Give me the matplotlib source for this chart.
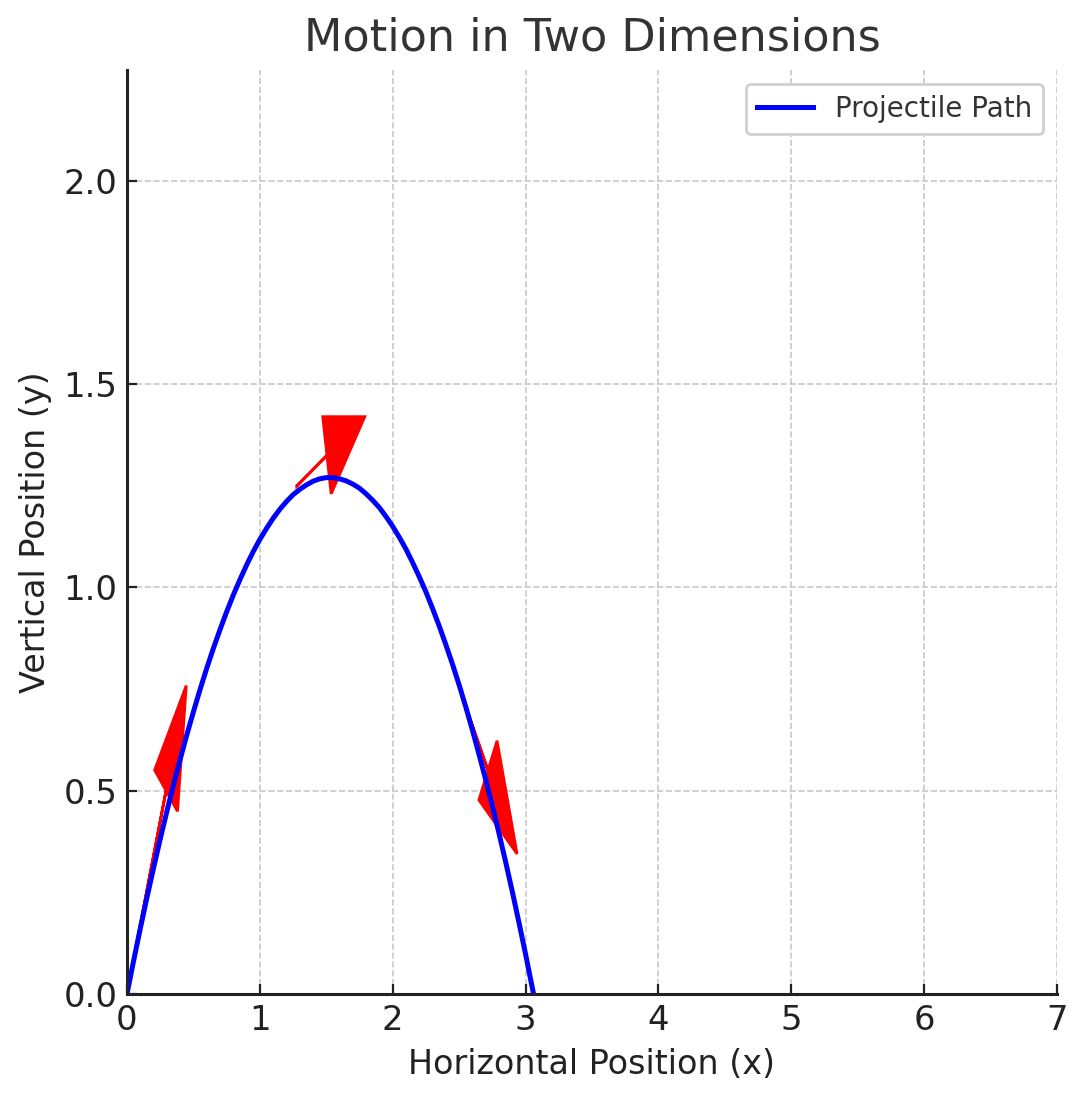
import matplotlib
matplotlib.use("Agg")
import matplotlib.pyplot as plt

# projectile path
path_x = [0.0, 0.05, 0.1, 0.15, 0.2, 0.25, 0.3, 0.35, 0.4, 0.45, 0.5,
          0.55, 0.6, 0.65, 0.7, 0.75, 0.8, 0.85, 0.9, 0.95, 1.0,
          1.05, 1.1, 1.15, 1.2, 1.25, 1.3, 1.35, 1.4, 1.45, 1.5,
          1.55, 1.6, 1.65, 1.7, 1.75, 1.8, 1.85, 1.9, 1.95, 2.0,
          2.05, 2.1, 2.15, 2.2, 2.25, 2.3, 2.35, 2.4, 2.45, 2.5,
          2.55, 2.6, 2.65, 2.7, 2.75, 2.8, 2.85, 2.9, 2.95, 3.0, 3.03, 3.06]
path_y = [0.0, 0.082, 0.161, 0.237, 0.310, 0.381, 0.449, 0.515, 0.577, 0.637, 0.694,
          0.749, 0.801, 0.850, 0.896, 0.940, 0.981, 1.019, 1.055, 1.088, 1.118,
          1.145, 1.170, 1.192, 1.211, 1.228, 1.241, 1.252, 1.261, 1.267, 1.270,
          1.270, 1.267, 1.262, 1.254, 1.244, 1.230, 1.214, 1.196, 1.174, 1.150,
          1.123, 1.094, 1.061, 1.026, 0.989, 0.948, 0.905, 0.859, 0.811, 0.760,
          0.706, 0.649, 0.589, 0.527, 0.463, 0.395, 0.325, 0.252, 0.176, 0.098, 0.049, 0.0]

# velocity arrows: start point and components
arrow_x = [0.0, 1.277, 2.52]
arrow_y = [0.0, 1.249, 0.735]
arrow_dx = [0.294, 0.228, 0.197]
arrow_dy = [0.50, 0.076, -0.185]

x_ticks = [0, 1, 2, 3, 4, 5, 6, 7]
y_ticks = [0.0, 0.5, 1.0, 1.5, 2.0]

fig = plt.figure(figsize=(1087 / 200, 1101 / 200), dpi=200)
ax = fig.add_axes([127 / 1087, 107 / 1101, 930 / 1087, 924 / 1101])

# arrows go under the path line
for x, y, dx, dy in zip(arrow_x, arrow_y, arrow_dx, arrow_dy):
    ax.arrow(x, y, dx, dy, head_width=0.2, head_length=0.3, color="red")

ax.plot(path_x, path_y, color="blue", linewidth=1.8, label="Projectile Path")

ax.set_xlim(0, 7)
ax.set_ylim(0, 2.2725)
ax.set_xticks(x_ticks)
ax.set_yticks(y_ticks)
ax.set_yticklabels([f"{v:.1f}" for v in y_ticks])

ax.set_title("Motion in Two Dimensions", fontsize=16, color="#333333", pad=7)
ax.set_xlabel("Horizontal Position (x)", fontsize=12, color="#222222")
ax.set_ylabel("Vertical Position (y)", fontsize=12, color="#222222")

ax.tick_params(direction="in", length=3.6, width=0.8, colors="#222222", labelsize=12.2)
for side in ["top", "right"]:
    ax.spines[side].set_visible(False)
for side in ["left", "bottom"]:
    ax.spines[side].set_linewidth(1.1)
    ax.spines[side].set_color("#222222")

ax.grid(True, linestyle="--", linewidth=0.6, color="#c8c8c8")
ax.set_axisbelow(True)

leg = ax.legend(loc="upper right", fontsize=10, framealpha=1)
leg.get_frame().set_edgecolor("#d0d0d0")
for t in leg.get_texts():
    t.set_color("#333333")

fig.savefig("out.png", dpi=200)
